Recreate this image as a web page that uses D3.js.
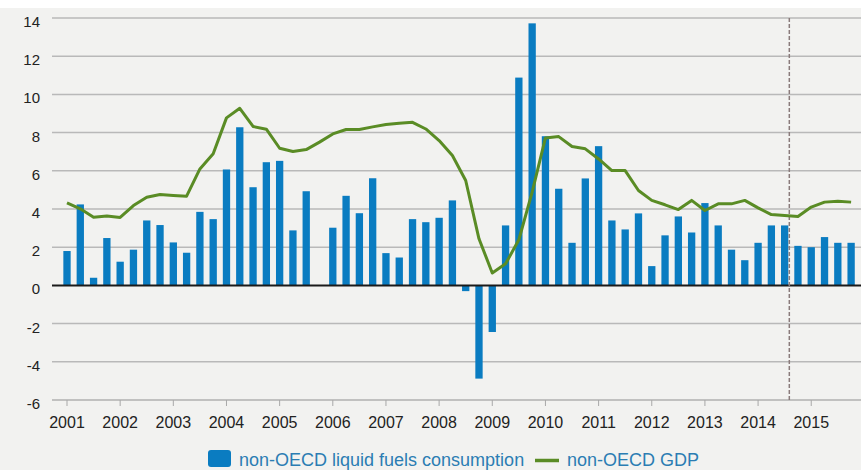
<!DOCTYPE html>
<html>
<head>
<meta charset="utf-8">
<script src="https://cdn.jsdelivr.net/npm/d3@7"></script>
<style>
  body { margin: 0; background: #ffffff; }
  svg { display: block; font-family: "Liberation Sans", Arial, sans-serif; }
</style>
</head>
<body>
<div id="chart"></div>
<script>
// quarterly data, 2001Q1 - 2015Q4 (year-over-year % change)
var years = [2001, 2002, 2003, 2004, 2005, 2006, 2007, 2008, 2009, 2010, 2011, 2012, 2013, 2014, 2015];
var quarters = [];
years.forEach(function (y) {
    for (var q = 1; q <= 4; q++) quarters.push(y + "Q" + q);
});

var liquidFuels = [
    1.80, 4.24, 0.40, 2.48, 1.24, 1.87, 3.40, 3.16, 2.25, 1.71,
    3.85, 3.47, 6.07, 8.28, 5.14, 6.45, 6.52, 2.88, 4.93, null,
    3.02, 4.69, 3.78, 5.61, 1.69, 1.46, 3.47, 3.31, 3.54, 4.45,
    -0.30, -4.88, -2.44, 3.14, 10.88, 13.72, 7.81, 5.06, 2.23, 5.60,
    7.29, 3.40, 2.93, 3.77, 1.01, 2.62, 3.61, 2.77, 4.31, 3.14,
    1.87, 1.32, 2.23, 3.14, 3.14, 2.07, 2.00, 2.53, 2.23, 2.23
];

var gdp = [
    4.32, 4.01, 3.57, 3.63, 3.56, 4.18, 4.62, 4.76, 4.71, 4.67,
    6.10, 6.89, 8.77, 9.27, 8.32, 8.18, 7.18, 7.01, 7.11, 7.50,
    7.93, 8.16, 8.16, 8.30, 8.42, 8.49, 8.54, 8.19, 7.58, 6.80,
    5.49, 2.44, 0.65, 1.13, 2.39, 4.88, 7.72, 7.79, 7.27, 7.15,
    6.62, 6.01, 6.01, 4.97, 4.45, 4.22, 3.97, 4.45, 3.92, 4.27,
    4.27, 4.45, 4.06, 3.71, 3.66, 3.61, 4.10, 4.36, 4.41, 4.36
];

var yTicks = [-6, -4, -2, 0, 2, 4, 6, 8, 10, 12, 14];
var forecastStart = "2014Q3";
var seriesNames = ["non-OECD liquid fuels consumption", "non-OECD GDP"];

var width = 861, height = 470;
var plot = { left: 52, right: 861, top: 18, bottom: 400 };

var svg = d3.select("#chart")
    .append("svg")
    .attr("width", width)
    .attr("height", height);

// background
svg.append("rect").attr("width", width).attr("height", height).attr("fill", "#ffffff");
svg.append("rect").attr("y", 8).attr("width", width).attr("height", height - 8).attr("fill", "#f2f2f0");

var step = 13.29;
var x = d3.scaleBand()
    .domain(quarters)
    .range([67 - step / 2, 67 + 59 * step + step / 2])
    .paddingInner(0.45)
    .paddingOuter(0.225);

var y = d3.scaleLinear().domain([-6, 14]).range([plot.bottom, plot.top]);

// grid lines
svg.append("g")
    .selectAll("line")
    .data(yTicks.filter(function (d) { return d !== 0 && d !== -6; }))
    .enter().append("line")
    .attr("x1", plot.left)
    .attr("x2", plot.right)
    .attr("y1", function (d) { return y(d); })
    .attr("y2", function (d) { return y(d); })
    .attr("stroke", "#b9b9b9")
    .attr("stroke-width", 1.5);

// y labels
svg.append("g")
    .selectAll("text")
    .data(yTicks)
    .enter().append("text")
    .attr("x", 40)
    .attr("y", function (d) { return y(d) + 5; })
    .attr("text-anchor", "end")
    .attr("dominant-baseline", "middle")
    .style("font-size", "15px")
    .style("fill", "#222")
    .text(function (d) { return d; });

// bottom axis
var xAxis = svg.append("g");
xAxis.append("line")
    .attr("x1", plot.left).attr("x2", plot.right)
    .attr("y1", y(-6)).attr("y2", y(-6))
    .attr("stroke", "#b0b0b0")
    .attr("stroke-width", 1.5);

var center = function (q) { return x(q) + x.bandwidth() / 2; };

xAxis.selectAll(".tick")
    .data(years)
    .enter().append("line")
    .attr("x1", function (d) { return center(d + "Q1"); })
    .attr("x2", function (d) { return center(d + "Q1"); })
    .attr("y1", y(-6))
    .attr("y2", y(-6) + 6)
    .attr("stroke", "#a8a8a8")
    .attr("stroke-width", 1);

xAxis.selectAll(".lbl")
    .data(years)
    .enter().append("text")
    .attr("x", function (d) { return center(d + "Q1"); })
    .attr("y", 428)
    .attr("text-anchor", "middle")
    .style("font-size", "16px")
    .style("fill", "#222")
    .text(function (d) { return d; });

// bars
svg.append("g")
    .selectAll("rect")
    .data(quarters.map(function (q, i) { return { q: q, v: liquidFuels[i] }; })
        .filter(function (d) { return d.v !== null; }))
    .enter().append("rect")
    .attr("x", function (d) { return x(d.q); })
    .attr("width", x.bandwidth())
    .attr("y", function (d) { return y(Math.max(0, d.v)); })
    .attr("height", function (d) { return Math.abs(y(d.v) - y(0)); })
    .attr("fill", "#0a7cc1");

// zero line
svg.append("line")
    .attr("x1", plot.left).attr("x2", plot.right)
    .attr("y1", y(0)).attr("y2", y(0))
    .attr("stroke", "#1a1a1a")
    .attr("stroke-width", 2);

// forecast divider
var fx = x(forecastStart) + x.bandwidth() + 1;
svg.append("line")
    .attr("x1", fx).attr("x2", fx)
    .attr("y1", y(14)).attr("y2", y(-6))
    .attr("stroke", "#8a7b7b")
    .attr("stroke-width", 1.5)
    .attr("stroke-dasharray", "4,2");

// GDP line
var line = d3.line()
    .x(function (d, i) { return center(quarters[i]); })
    .y(function (d) { return y(d); });

svg.append("path")
    .datum(gdp)
    .attr("d", line)
    .attr("fill", "none")
    .attr("stroke", "#5a8c25")
    .attr("stroke-width", 3)
    .attr("stroke-linejoin", "round");

// legend
var legend = svg.append("g");
legend.append("rect")
    .attr("x", 208).attr("y", 450)
    .attr("width", 23).attr("height", 17)
    .attr("rx", 3)
    .attr("fill", "#0a7cc1");
legend.append("text")
    .attr("x", 239).attr("y", 466)
    .style("font-size", "18px")
    .style("fill", "#2b7db3")
    .text(seriesNames[0]);
legend.append("line")
    .attr("x1", 535).attr("x2", 559)
    .attr("y1", 460.5).attr("y2", 460.5)
    .attr("stroke", "#5a8c25")
    .attr("stroke-width", 3.5);
legend.append("text")
    .attr("x", 567).attr("y", 466)
    .style("font-size", "18px")
    .style("fill", "#2b7db3")
    .text(seriesNames[1]);
</script>
</body>
</html>
